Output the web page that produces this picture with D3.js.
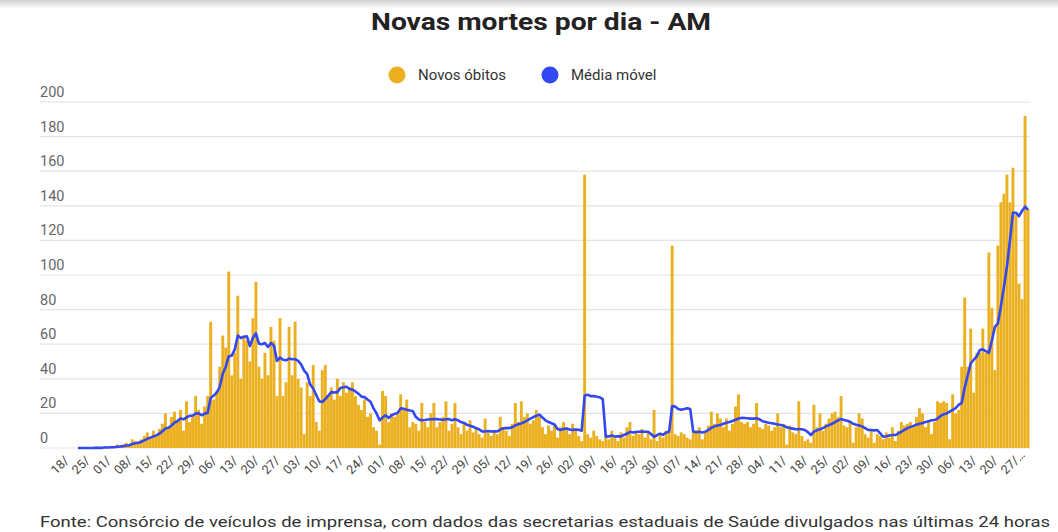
<!DOCTYPE html>
<html>
<head>
<meta charset="UTF-8">
<title>Novas mortes por dia - AM</title>
<script src="https://cdn.jsdelivr.net/npm/d3@7"></script>
<style>
  body { margin: 0; background: #fff; }
  svg { font-family: Roboto, "Liberation Sans", Arial, sans-serif; }
  .grid line { stroke: #e3e3e3; stroke-width: 1.2px; }
  .ylab { font-size: 14.5px; fill: #666; }
  .xlab { font-size: 12.5px; fill: #444; }
  .legend text { font-size: 15px; fill: #333; }
</style>
</head>
<body>
<svg id="chart" width="1058" height="532"></svg>
<script>
// daily deaths, Amazonas, from 18/3/2020 (one value per day)
const startDate = new Date(2020, 2, 18);
const obitos = [
  0,0,0,0,0,0,1,
  0,0,1,0,1,0,2,
  1,2,3,2,5,4,3,
  5,7,9,6,10,8,11,
  14,20,12,18,21,16,22,
  10,27,15,18,30,22,14,
  24,30,73,28,33,47,65,
  58,102,42,55,88,40,65,
  62,50,75,96,47,40,55,
  42,70,62,30,75,30,38,
  70,42,73,40,35,8,38,
  30,48,15,10,45,48,30,
  35,28,40,30,38,32,35,
  38,30,25,22,28,18,20,
  12,10,2,33,30,15,20,
  18,20,31,22,28,12,15,
  14,10,26,15,12,20,26,
  12,15,18,27,10,14,26,
  12,8,15,10,16,9,12,
  8,6,17,9,7,10,8,
  18,12,10,7,14,26,15,
  27,18,20,14,16,22,18,
  12,8,13,10,13,6,12,
  15,12,8,14,10,7,4,
  158,8,6,10,7,5,4,
  8,5,10,6,4,9,6,
  12,15,7,9,8,11,6,
  10,5,22,4,8,6,10,
  9,117,8,7,9,8,6,
  5,9,10,12,5,10,13,
  21,14,20,17,12,17,10,
  14,24,31,15,14,15,12,
  14,26,12,11,14,13,10,
  12,20,12,14,2,13,9,
  8,27,7,4,5,3,25,
  12,20,10,14,17,20,21,
  18,30,13,12,15,3,12,
  20,17,8,6,10,3,8,
  7,5,9,6,12,4,10,
  15,13,14,15,13,18,23,
  20,12,15,8,15,27,26,
  27,26,5,31,20,22,47,
  87,47,69,32,55,55,69,
  55,113,81,45,117,142,147,
  158,142,162,135,95,86,192,
  138
];

const mediaMovel = [
  0,0,0,0,0,0,0.1,
  0.1,0.1,0.3,0.3,0.4,0.4,0.7,
  0.9,1.1,1.4,1.6,2.3,2.7,3,
  3.6,4.4,5.3,6,6.7,7.3,8.3,
  9.6,11.3,11.7,13,14.6,15.6,17,
  16.6,17.7,18.6,18.6,19.9,20.1,18.9,
  19.9,20.3,28.9,30.3,32,35.3,42.9,
  47,53,53.4,57,65,63.6,64.3,
  64.6,58.9,63.6,66.3,60.3,60,60.7,
  58.4,60.7,59.1,50.3,52.3,51,50.7,
  51.7,51.3,51.4,50.4,48.3,44.7,42.7,
  36.6,34.4,30.6,27,26.6,28.3,30.3,
  32.3,32.1,32.3,34.7,35.1,35.4,34.3,
  33.7,32.7,31.4,29.7,29.4,28,26.7,
  22.9,20,16,17.6,18.9,17.4,18.9,
  19.7,20.3,22.9,22.7,22.1,21.7,21.4,
  18,16.5,16,16.2,16.5,16.6,16.7,
  16.7,16.5,16.3,16.6,16.7,16,16.6,
  16,15,14.5,13.4,12.9,12.3,11.5,
  10.8,9.6,9.5,9.8,9.5,9.7,9.6,
  10.6,11.4,11.5,11.5,12,13.1,13.8,
  14.2,15,16,17,17.9,18.6,19.3,
  17.6,16,15,14.3,13.6,11,10.4,
  11,11.3,10.7,10.5,10.7,10.5,10,
  30.4,30.8,30,30,29.6,29.3,28.3,
  6.6,6.7,7.3,6.6,6.8,6.7,7.5,
  8.2,9.4,9,9.3,9.4,9.5,9.4,
  9.4,8.1,6.5,7.4,8.3,7.6,9,
  9.4,24.2,24,22.5,22.1,22.5,23,
  22.5,9.4,9.2,9.4,9,9.4,10.5,
  11.6,12.5,13,13.3,14,14.6,15,
  15.6,16.3,17,17.4,17.3,17.2,17,
  17,17.2,16.5,15.5,15,14.6,14.3,
  14,13.6,13.3,12.8,12,11.5,11.2,
  10.8,11,10.8,10.4,9.2,7.5,9.5,
  10.2,10.8,11.5,12.5,13.2,14,15,
  16,16.7,16.2,15.8,15.2,14,13.5,
  13,12.5,11.5,10.4,10.4,10.2,10.4,
  8.5,6.5,6.8,7.2,7.5,7.5,8.5,
  9.4,10.5,11.5,12.2,12.8,13.5,14,
  14.5,15,15.5,16,16.2,17,18.5,
  19.5,20,21,22,23,25,26,
  35,42,49,51,53,56.6,57,
  56,55,62,70,72,82,93,
  105,120,136,136,134,137,139.5,
  137.6
];

// one label every 7 days
const tickLabels = ["18/","25/","01/","08/","15/","22/","29/","06/","13/","20/","27/",
  "03/","10/","17/","24/","01/","08/","15/","22/","29/","05/","12/","19/","26/",
  "02/","09/","16/","23/","30/","07/","14/","21/","28/","04/","11/","18/","25/",
  "02/","09/","16/","23/","30/","06/","13/","20/","27/…"];
const yTicks = [0,20,40,60,80,100,120,140,160,180,200];

const days = obitos.map((d, i) => d3.timeDay.offset(startDate, i));

const svg = d3.select("#chart");

// faint shadow at top edge
const grad = svg.append("defs").append("linearGradient")
  .attr("id", "topShade").attr("x1", 0).attr("x2", 0).attr("y1", 0).attr("y2", 1);
grad.append("stop").attr("offset", "0%").attr("stop-color", "#cfcfcf");
grad.append("stop").attr("offset", "100%").attr("stop-color", "#ffffff");
svg.append("rect").attr("x", 0).attr("y", 0).attr("width", 1058).attr("height", 9)
  .attr("fill", "url(#topShade)");

const x = d3.scaleBand()
  .domain(days)
  .range([76.5, 1029.5])
  .paddingInner(0.04);

const y = d3.scaleLinear()
  .domain([0, 200])
  .range([448, 102]);

// title
svg.append("text")
  .attr("x", 541).attr("y", 30)
  .attr("text-anchor", "middle")
  .attr("font-size", "23px").attr("font-weight", "bold").attr("fill", "#222")
  .attr("textLength", 340).attr("lengthAdjust", "spacingAndGlyphs")
  .text("Novas mortes por dia - AM");

// legend
const legendItems = [
  { label: "Novos óbitos", color: "#ebb01f", cx: 397 },
  { label: "Média móvel", color: "#3347f2", cx: 550 }
];
const legend = svg.append("g").attr("class", "legend")
  .selectAll("g").data(legendItems).enter().append("g");
legend.append("circle")
  .attr("cx", d => d.cx).attr("cy", 75).attr("r", 8.5)
  .attr("fill", d => d.color);
legend.append("text")
  .attr("x", d => d.cx + 21).attr("y", 80)
  .text(d => d.label);

// grid + y labels
const grid = svg.append("g").attr("class", "grid");
grid.selectAll("line").data(yTicks).enter().append("line")
  .attr("x1", 40).attr("x2", 1030)
  .attr("y1", d => y(d)).attr("y2", d => y(d));
svg.append("g").selectAll("text").data(yTicks).enter().append("text")
  .attr("class", "ylab")
  .attr("x", 40).attr("y", d => y(d) - 5)
  .text(d => d);

// bars
svg.append("g").selectAll("rect")
  .data(obitos)
  .enter().append("rect")
  .attr("x", (d, i) => x(days[i]))
  .attr("y", d => y(d))
  .attr("width", x.bandwidth())
  .attr("height", d => y(0) - y(d))
  .attr("fill", "#ebb01f");

// moving average line
const line = d3.line()
  .x((d, i) => x(days[i]) + x.bandwidth() / 2)
  .y(d => y(d));
svg.append("path")
  .datum(mediaMovel)
  .attr("d", line)
  .attr("fill", "none")
  .attr("stroke", "#3347f2")
  .attr("stroke-width", 2.6)
  .attr("stroke-linejoin", "round");

// x labels, rotated
svg.append("g").selectAll("text")
  .data(tickLabels)
  .enter().append("text")
  .attr("class", "xlab")
  .attr("transform", (d, i) => {
    const cx = x(days[i * 7]) + x.bandwidth() / 2 - 22;
    return `translate(${cx}, 475) rotate(-45)`;
  })
  .attr("text-anchor", "start")
  .text(d => d);

// source note
svg.append("text")
  .attr("x", 40).attr("y", 527)
  .attr("font-size", "15.5px").attr("fill", "#333")
  .attr("textLength", 1010).attr("lengthAdjust", "spacingAndGlyphs")
  .text("Fonte: Consórcio de veículos de imprensa, com dados das secretarias estaduais de Saúde divulgados nas últimas 24 horas");
</script>
</body>
</html>
